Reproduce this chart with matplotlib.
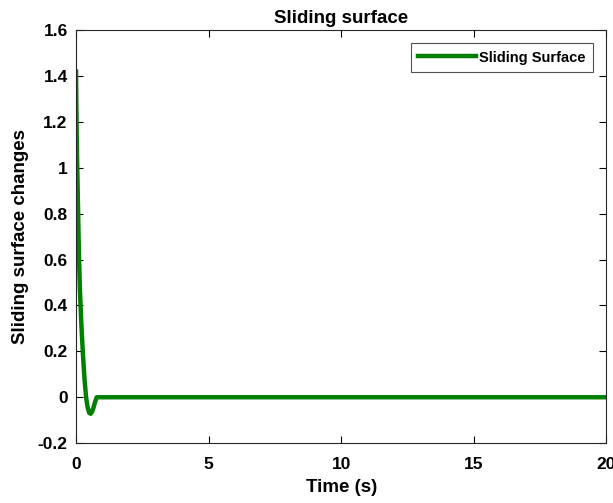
import matplotlib
matplotlib.use('Agg')
import matplotlib.pyplot as plt

plt.rcParams['font.family'] = ['Liberation Sans', 'DejaVu Sans']
plt.rcParams['font.weight'] = 'bold'

# sliding surface response
time_s = [0, 0.01, 0.03, 0.05, 0.08, 0.11, 0.15, 0.2, 0.26, 0.32, 0.38, 0.44,
          0.5, 0.55, 0.6, 0.66, 0.72, 0.78, 0.9, 1.2, 20]
surface = [1.42, 1.30, 1.10, 0.98, 0.80, 0.62, 0.46, 0.32, 0.19, 0.08, 0.0, -0.045,
           -0.068, -0.072, -0.065, -0.045, -0.02, 0.0, 0.0, 0.0, 0.0]

xticks = [0, 5, 10, 15, 20]
yticks = [-0.2, 0, 0.2, 0.4, 0.6, 0.8, 1, 1.2, 1.4, 1.6]
yticklabels = ['-0.2', '0', '0.2', '0.4', '0.6', '0.8', '1', '1.2', '1.4', '1.6']

fig = plt.figure(figsize=(6.13, 5.03), dpi=100)
ax = fig.add_axes([0.124, 0.119, 0.865, 0.821])

ax.plot(time_s, surface, color=(0, 0.5, 0), linewidth=3.2, label='Sliding Surface')

ax.set_xlim(0, 20)
ax.set_ylim(-0.2, 1.6)
ax.set_xticks(xticks)
ax.set_yticks(yticks)
ax.set_yticklabels(yticklabels)
ax.tick_params(direction='in', top=True, right=True, labelsize=12.5, length=5, width=0.8, pad=6)
ax.tick_params(axis='x', pad=10)
for s in ax.spines.values():
    s.set_linewidth(0.8)
    s.set_color('#262626')

ax.set_title('Sliding surface', fontsize=13.5, fontweight='bold', pad=5)
ax.set_xlabel('Time (s)', fontsize=13.5, fontweight='bold', labelpad=5)
ax.set_ylabel('Sliding surface changes', fontsize=13.5, fontweight='bold', labelpad=6)

leg = ax.legend(loc='upper right', fontsize=10.5, fancybox=False, edgecolor='#262626',
                handlelength=4, borderaxespad=0.9, handletextpad=0.2, borderpad=0.5)
leg.get_frame().set_linewidth(0.8)

fig.savefig('out.png', dpi=100)
